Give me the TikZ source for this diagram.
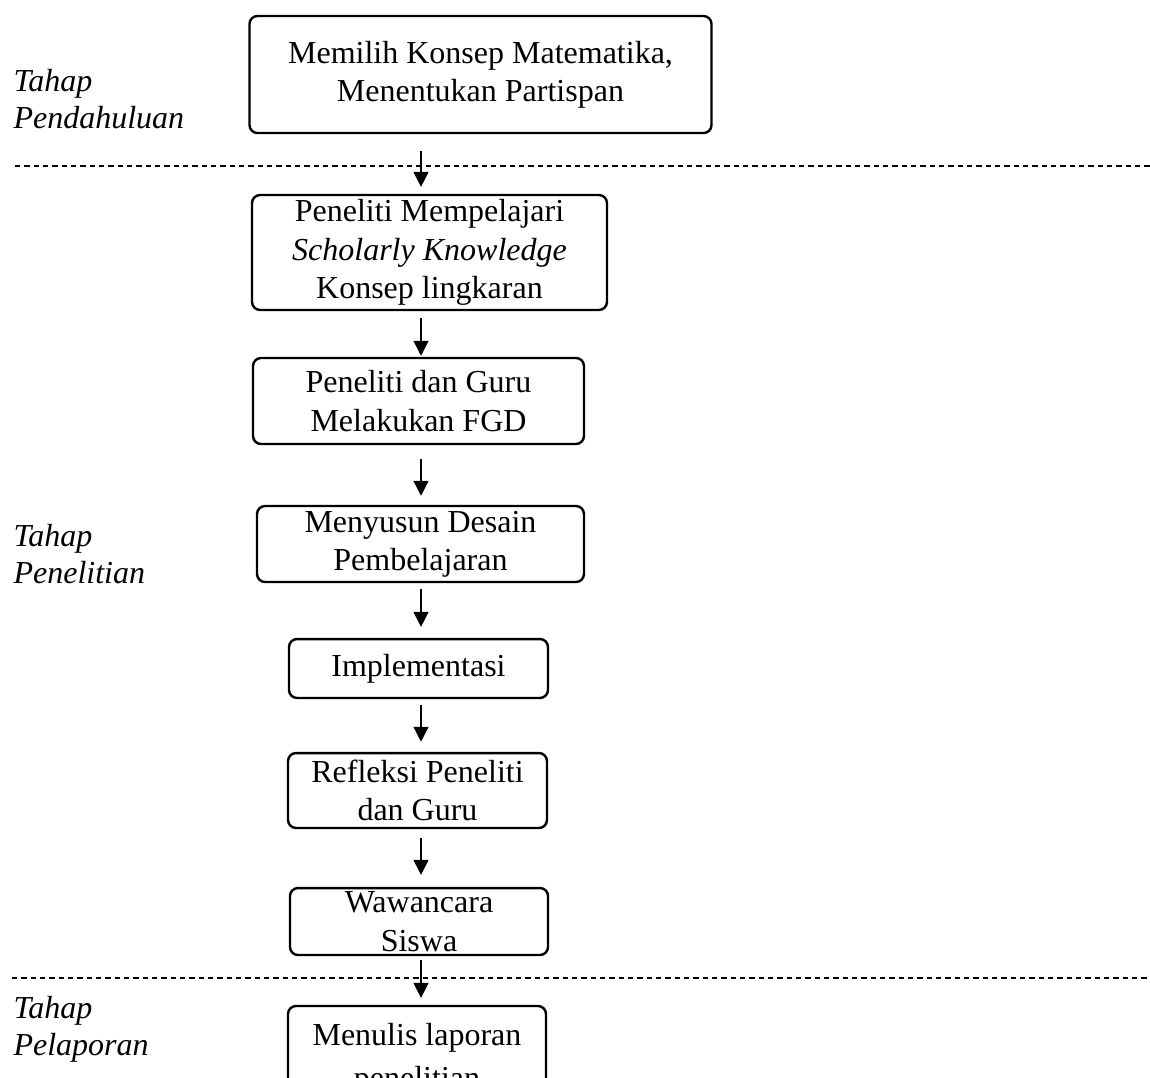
\documentclass[tikz,border=0pt]{standalone}
\usepackage{fontspec}
\setmainfont{Liberation Serif}
\usetikzlibrary{arrows.meta}

\tikzset{
  stepbox/.style={draw, line width=0.9pt, rounded corners=3pt, inner sep=0pt,
    align=center, font=\fontsize{12pt}{14.4pt}\selectfont},
  phase/.style={anchor=west, inner sep=0pt, align=left,
    font=\fontsize{12pt}{13.8pt}\selectfont\itshape},
  arr/.style={line width=0.5pt, -{Triangle[length=5.6pt,width=5.6pt]}},
  divider/.style={line width=0.6pt, dash pattern=on 2pt off 1.5pt}
}

\begin{document}
\begin{tikzpicture}[x=0.375pt, y=-0.375pt]
        \useasboundingbox (0,0) rectangle (1150,1077);
        \clip (0,0) rectangle (1150,1077);

        % Phases
        \node[phase] (pend) at (13,99) {Tahap\\Pendahuluan};
        \node[phase] (pene) at (13,554) {Tahap\\Penelitian};
        \node[phase] (pela) at (13,1029) {Tahap\\Pelaporan};

        % Dividers
        \coordinate (d1l) at (15,166);
        \coordinate (d1r) at (1150,166);
        \coordinate (d2l) at (12,978);
        \coordinate (d2r) at (1150,978);
        \draw[divider] (d1l) -- (d1r);
        \draw[divider] (d2l) -- (d2r);

        % Steps
        \node[stepbox, minimum width=173.25pt, minimum height=43.9pt] (konsep) at (480.5,74.5)
          {Memilih Konsep Matematika,\\Menentukan Partispan};
        \node[stepbox, minimum width=133.1pt, minimum height=43.1pt] (scholar) at (429.5,252.5)
          {Peneliti Mempelajari\\\textit{Scholarly Knowledge}\\Konsep lingkaran};
        \node[stepbox, minimum width=124.1pt, minimum height=32.25pt] (fgd) at (418.5,401)
          {Peneliti dan Guru\\Melakukan FGD};
        \node[stepbox, minimum width=122.6pt, minimum height=28.5pt] (desain) at (420.5,544)
          {Menyusun Desain\\Pembelajaran};
        \node[stepbox, minimum width=97.1pt, minimum height=22.1pt] (impl) at (418.5,668.5)
          {Implementasi};
        \node[stepbox, minimum width=97.1pt, minimum height=28.1pt] (refleksi) at (417.5,790.5)
          {Refleksi Peneliti\\dan Guru};
        \node[stepbox, minimum width=96.75pt, minimum height=25.1pt] (wawancara) at (419,921.5)
          {Wawancara\\Siswa};
        \node[stepbox, minimum width=96.75pt, minimum height=39.75pt,
          font=\fontsize{12pt}{16.2pt}\selectfont] (laporan) at (417,1059)
          {Menulis laporan\\penelitian};

        % Arrows
        \coordinate (axis) at (421,0);
        \draw[arr, shorten <=6.4pt, shorten >=2.6pt] (konsep.south -| axis) -- (scholar.north -| axis);
        \draw[arr, shorten <=2.6pt, shorten >=0.4pt] (scholar.south -| axis) -- (fgd.north -| axis);
        \draw[arr, shorten <=5.2pt, shorten >=3.4pt] (fgd.south -| axis) -- (desain.north -| axis);
        \draw[arr, shorten <=2.2pt, shorten >=4.1pt] (desain.south -| axis) -- (impl.north -| axis);
        \draw[arr, shorten <=2.2pt, shorten >=3.8pt] (impl.south -| axis) -- (refleksi.north -| axis);
        \draw[arr, shorten <=3.4pt, shorten >=4.5pt] (refleksi.south -| axis) -- (wawancara.north -| axis);
        \draw[arr, shorten <=1.5pt, shorten >=2.6pt] (wawancara.south -| axis) -- (laporan.north -| axis);
\end{tikzpicture}
\end{document}
